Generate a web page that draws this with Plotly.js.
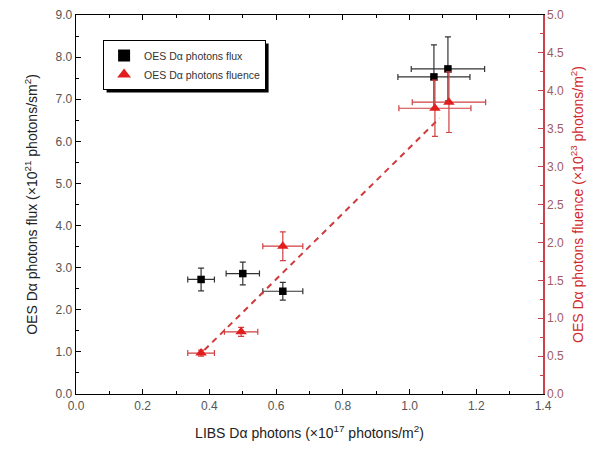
<!DOCTYPE html>
<html><head><meta charset="utf-8">
<script src="https://cdn.plot.ly/plotly-3.0.1.min.js"></script>
<style>html,body{margin:0;padding:0;background:#fff}#c{width:599px;height:456px}</style>
</head><body><div id="c"></div>
<script>
const fluxX = [0.375, 0.50, 0.62, 1.073, 1.115];
const fluxXErr = [0.04, 0.05, 0.06, 0.108, 0.11];
const fluxY = [2.72, 2.86, 2.44, 7.53, 7.72];
const fluxYErr = [0.27, 0.27, 0.21, 0.76, 0.76];

const fluenceX = [0.375, 0.495, 0.62, 1.076, 1.118];
const fluenceXErr = [0.04, 0.05, 0.06, 0.108, 0.11];
const fluenceY = [0.54, 0.82, 1.95, 3.77, 3.85];
const fluenceYErr = [0.04, 0.06, 0.19, 0.37, 0.40];

const fitX = [0.385, 1.09];
const fitY = [0.58, 3.64];

const xTicks = ['0.0','0.2','0.4','0.6','0.8','1.0','1.2','1.4'];
const redAxis = '#c8414b';
const tickFont = {family:'Liberation Sans, Arial', size:12, color:'#555'};

const traces = [
 {x: fitX, y: fitY, yaxis:'y2', mode:'lines', showlegend:false,
  line:{color:'#d03a3a', width:2, dash:'6px,5px'}},
 {x: fluxX, y: fluxY, mode:'markers', name:'OES Dα photons flux',
  marker:{symbol:'square', size:7.5, color:'#000'},
  error_x:{type:'data', array:fluxXErr, color:'#333', thickness:1.2, width:3},
  error_y:{type:'data', array:fluxYErr, color:'#333', thickness:1.2, width:3}},
 {x: fluenceX, y: fluenceY, yaxis:'y2', mode:'markers', name:'OES Dα photons fluence',
  marker:{symbol:'triangle-up', size:10, color:'#e01e1e'},
  error_x:{type:'data', array:fluenceXErr, color:'#d04040', thickness:1.2, width:3},
  error_y:{type:'data', array:fluenceYErr, color:'#d04040', thickness:1.2, width:3}}
];

const layout = {
 width:599, height:456,
 margin:{l:76, r:56, t:15, b:62},
 paper_bgcolor:'#fff', plot_bgcolor:'#fff',
 font:{family:'Liberation Sans, Arial', color:'#222'},
 showlegend:true,
 legend:{x:0.058, y:0.934, xanchor:'left', yanchor:'top', bgcolor:'#fff',
   bordercolor:'#000', borderwidth:1, font:{size:10.5, color:'#333'},
   tracegroupgap:0, itemsizing:'constant', itemwidth:30},
 xaxis:{range:[0,1.4], tickvals:[0,0.2,0.4,0.6,0.8,1.0,1.2,1.4], ticktext:xTicks,
   ticks:'inside', ticklen:5, tickcolor:'#000', showline:true, linecolor:'#000', linewidth:1.3,
   mirror:'ticks', showgrid:false, zeroline:false, tickfont:tickFont,
   minor:{ticks:'inside', ticklen:3, dtick:0.1, tickcolor:'#000'},
   title:{text:'LIBS Dα photons (×10<sup>17</sup> photons/m<sup>2</sup>)', font:{size:14, color:'#222'}, standoff:16}},
 yaxis:{range:[0,9], dtick:1, tickformat:'.1f', ticks:'inside', ticklen:5, tickcolor:'#000',
   showline:true, linecolor:'#000', linewidth:1.3, showgrid:false, zeroline:false, tickfont:tickFont,
   minor:{ticks:'inside', ticklen:3, dtick:0.5, tickcolor:'#000'},
   title:{text:'OES Dα photons flux (×10<sup>21</sup> photons/sm<sup>2</sup>)', font:{size:14, color:'#222'}, standoff:14}},
 yaxis2:{range:[0,5], dtick:0.5, tickformat:'.1f', overlaying:'y', side:'right',
   ticks:'inside', ticklen:5, tickcolor:redAxis, showline:true, linecolor:redAxis, linewidth:1.6,
   showgrid:false, zeroline:false, tickfont:{family:'Liberation Sans, Arial', size:12, color:'#a05a60'},
   minor:{ticks:'inside', ticklen:3, dtick:0.25, tickcolor:redAxis},
   title:{text:'OES Dα photons fluence (×10<sup>23</sup> photons/m<sup>2</sup>)', font:{size:14, color:'#d02a2a'}, standoff:10}}
};
Plotly.newPlot('c', traces, layout, {displayModeBar:false, staticPlot:true}).then(function(gd){
  const bg = gd.querySelector('.legend .bg');
  if (!bg) return;
  const r = bg.getBoundingClientRect();
  const fl = gd._fullLayout, s = fl._size;
  const toX = px => (px - s.l) / s.w;
  const toY = py => 1 - (py - s.t) / s.h;
  const off = 3;
  return Plotly.relayout(gd, {shapes:[{type:'rect', xref:'paper', yref:'paper',
    x0:toX(r.left+off), x1:toX(r.right+off), y0:toY(r.bottom+off), y1:toY(r.top+off),
    fillcolor:'#000', line:{width:0}, layer:'above'}]});
});
</script></body></html>
